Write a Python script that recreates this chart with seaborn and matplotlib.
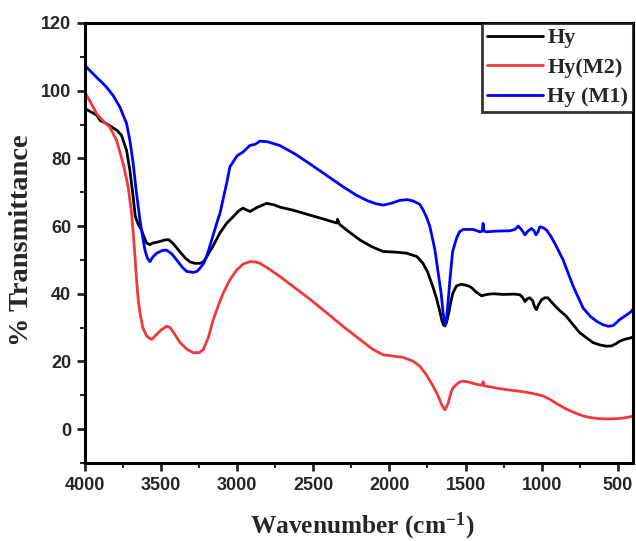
import matplotlib
matplotlib.use("Agg")
import matplotlib.pyplot as plt
import seaborn as sns
import pandas as pd
from matplotlib.ticker import MultipleLocator

# Hy (black)
hy_wn = [4000, 3923, 3900, 3860, 3815, 3790, 3760, 3727, 3705, 3683, 3670, 3650, 3628, 3610, 3595,
         3575, 3553, 3520, 3475, 3450, 3420, 3376, 3340, 3310, 3280, 3245, 3220, 3200, 3160, 3113,
         3070, 3028, 2990, 2962, 2940, 2916, 2870, 2807, 2760, 2720, 2634, 2550, 2450, 2347, 2340,
         2330, 2280, 2194, 2120, 2043, 1960, 1888, 1820, 1780, 1750, 1714, 1690, 1670, 1655, 1645,
         1636, 1625, 1610, 1595, 1583, 1560, 1530, 1505, 1480, 1461, 1430, 1395, 1360, 1320, 1250,
         1180, 1143, 1125, 1110, 1095, 1078, 1060, 1045, 1034, 1020, 1001, 980, 960, 940, 914, 880,
         837, 800, 750, 700, 664, 620, 574, 540, 510, 487, 450, 420, 400]
hy_t = [94.7, 92.8, 91.2, 90.3, 89.0, 88.3, 86.8, 82.4, 76.5, 68.5, 63.0, 60.5, 58.8, 56.5, 55.0,
        54.5, 55.0, 55.3, 55.9, 56.0, 54.8, 52.4, 50.5, 49.4, 49.0, 49.0, 49.5, 51.0, 54.0, 58.0,
        60.8, 62.7, 64.5, 65.3, 64.8, 64.3, 65.5, 66.7, 66.3, 65.6, 64.7, 63.6, 62.3, 60.9, 62.0,
        60.6, 58.8, 55.9, 54.0, 52.5, 52.3, 52.0, 51.0, 49.0, 46.5, 42.0, 38.5, 35.0, 32.0, 30.8,
        30.5, 31.5, 34.5, 38.0, 40.2, 42.3, 42.8, 42.6, 42.3, 41.8, 40.5, 39.4, 39.8, 40.0, 39.8,
        39.9, 39.7, 38.9, 37.7, 38.5, 38.8, 38.0, 36.0, 35.3, 36.8, 38.2, 38.8, 38.8, 37.8, 36.5, 35.0,
        33.3, 31.2, 28.5, 26.8, 25.6, 24.9, 24.5, 24.6, 25.3, 26.0, 26.6, 26.9, 27.2]

# Hy(M2) (red)
m2_wn = [4000, 3960, 3923, 3880, 3836, 3792, 3749, 3716, 3694, 3683, 3670, 3661, 3650, 3639, 3620,
         3595, 3580, 3562, 3540, 3500, 3464, 3440, 3410, 3376, 3330, 3289, 3250, 3223, 3190, 3157,
         3120, 3092, 3050, 3004, 2960, 2916, 2880, 2850, 2790, 2720, 2634, 2520, 2413, 2300, 2194,
         2110, 2043, 1980, 1912, 1850, 1800, 1760, 1713, 1680, 1655, 1636, 1615, 1595, 1582, 1560,
         1540, 1516, 1480, 1440, 1400, 1390, 1385, 1378, 1340, 1280, 1220, 1165, 1100, 1034, 990,
         946, 900, 837, 780, 728, 680, 618, 560, 509, 460, 414, 400]
m2_t = [99.5, 96.3, 93.2, 91.0, 89.2, 85.3, 78.4, 71.6, 63.8, 58.0, 50.0, 44.0, 38.0, 34.4, 30.0,
        27.5, 27.0, 26.5, 27.5, 29.3, 30.4, 30.0, 28.0, 25.6, 23.6, 22.6, 22.6, 23.5, 27.0, 32.4,
        37.0, 40.2, 44.0, 47.0, 48.8, 49.5, 49.4, 49.0, 47.3, 45.1, 42.2, 38.3, 34.4, 30.2, 26.5,
        23.6, 22.0, 21.6, 21.2, 20.2, 18.6, 16.2, 12.7, 9.8, 7.0, 5.7, 7.5, 11.0, 12.2, 13.2,
        13.9, 14.2, 13.9, 13.4, 13.0, 13.0, 14.0, 12.8, 12.5, 12.0, 11.6, 11.3, 10.9, 10.3, 9.8,
        8.8, 7.5, 5.9, 4.8, 3.9, 3.4, 3.1, 3.0, 3.1, 3.3, 3.7, 3.9]

# Hy (M1) (blue)
m1_wn = [4000, 3960, 3923, 3890, 3858, 3814, 3770, 3726, 3705, 3683, 3665, 3650, 3639, 3620, 3606,
         3590, 3573, 3555, 3529, 3490, 3464, 3430, 3398, 3360, 3332, 3289, 3265, 3245, 3220, 3201,
         3170, 3135, 3113, 3090, 3070, 3048, 3000, 2961, 2917, 2880, 2851, 2800, 2720, 2620, 2523,
         2420, 2304, 2220, 2150, 2090, 2041, 1990, 1931, 1880, 1844, 1800, 1778, 1755, 1734, 1701,
         1680, 1660, 1648, 1636, 1625, 1615, 1603, 1585, 1559, 1540, 1516, 1450, 1406, 1390, 1385,
         1378, 1362, 1300, 1209, 1175, 1154, 1130, 1110, 1090, 1067, 1050, 1038, 1025, 1012, 990,
         968, 940, 914, 859, 793, 728, 680, 640, 600, 564, 530, 487, 450, 410, 400]
m1_t = [107.4, 105.6, 103.9, 102.5, 101.0, 98.5, 95.1, 90.2, 85.3, 78.4, 71.0, 65.7, 61.8, 56.5, 52.9,
        50.5, 49.5, 50.8, 52.0, 52.8, 52.9, 51.8, 50.0, 47.8, 46.6, 46.3, 46.6, 47.5, 49.0, 51.0,
        55.5, 60.8, 63.8, 68.5, 72.5, 77.5, 80.8, 81.9, 83.8, 84.2, 85.1, 84.9, 83.8, 81.3, 78.4,
        75.2, 71.6, 69.2, 67.6, 66.6, 66.2, 66.7, 67.6, 67.8, 67.4, 66.4, 64.7, 62.5, 59.8, 52.9,
        46.2, 40.0, 34.5, 31.0, 32.5, 37.5, 44.0, 52.5, 56.4, 58.3, 59.0, 59.0, 58.3, 58.5, 60.8,
        58.5, 58.3, 58.5, 58.6, 59.0, 60.0, 58.8, 57.4, 58.5, 59.3, 58.6, 57.4, 58.2, 59.8, 59.5,
        58.8, 57.0, 54.9, 50.0, 42.2, 35.8, 33.3, 31.9, 30.9, 30.4, 30.6, 32.4, 33.5, 34.8, 35.5]

labels = ["Hy", "Hy(M2)", "Hy (M1)"]
colors = ["#000000", "#ee3a3a", "#0000ff"]

sns.set_style("white")
plt.rcParams["font.family"] = ["Liberation Sans", "DejaVu Sans"]
plt.rcParams["mathtext.fontset"] = "custom"
plt.rcParams["mathtext.rm"] = "Liberation Serif:bold"
plt.rcParams["mathtext.bf"] = "Liberation Serif:bold"
plt.rcParams["mathtext.it"] = "Liberation Serif:bold"
plt.rcParams["mathtext.default"] = "rm"

fig = plt.figure(figsize=(6.36, 5.41), dpi=100)
ax = fig.add_axes([0.1336, 0.1442, 0.8617, 0.8133])

for wn, t, lab, c in zip([hy_wn, m2_wn, m1_wn], [hy_t, m2_t, m1_t], labels, colors):
    df = pd.DataFrame({"Wavenumber": wn, "T": t})
    sns.lineplot(data=df, x="Wavenumber", y="T", ax=ax, color=c, label=lab,
                 sort=False, estimator=None, linewidth=2.0)

ax.set_xlim(4000, 400)
ax.set_ylim(-10, 120)
ax.xaxis.set_major_locator(MultipleLocator(500))
ax.xaxis.set_minor_locator(MultipleLocator(250))
ax.set_yticks([0, 20, 40, 60, 80, 100, 120])
ax.yaxis.set_minor_locator(MultipleLocator(10))
ax.tick_params(axis="both", which="major", direction="out", length=6, width=2,
               labelsize=13, bottom=True, left=True, top=False, right=False, pad=4)
ax.tick_params(axis="both", which="minor", direction="out", length=3.5, width=1.5,
               bottom=True, left=True, top=False, right=False)
for lbl in ax.get_xticklabels() + ax.get_yticklabels():
    lbl.set_fontweight("bold")

for sp in ax.spines.values():
    sp.set_linewidth(2.2)
    sp.set_color("black")
    sp.set_visible(True)

ax.set_xlabel("Wavenumber (cm$^{-1}$)", fontsize=18.3, fontweight="bold",
              family=["Liberation Serif", "DejaVu Serif"])
ax.set_ylabel("% Transmittance", fontsize=20.5, fontweight="bold",
              family=["Liberation Serif", "DejaVu Serif"])
ax.xaxis.set_label_coords(0.505, -0.143)
ax.yaxis.set_label_coords(-0.115, 0.507)
ax.xaxis.label.set_va("center")
ax.yaxis.label.set_va("center")

leg = ax.legend(loc="upper right", frameon=True, fancybox=False, borderaxespad=0,
                prop={"family": ["Liberation Serif"], "weight": "bold", "size": 16},
                handlelength=2.5, handletextpad=0.2, labelspacing=0.4, borderpad=0.22)
leg.get_frame().set_edgecolor("black")
leg.get_frame().set_linewidth(2)
for line in leg.get_lines():
    line.set_linewidth(2.0)

fig.savefig("out.png", dpi=100)
